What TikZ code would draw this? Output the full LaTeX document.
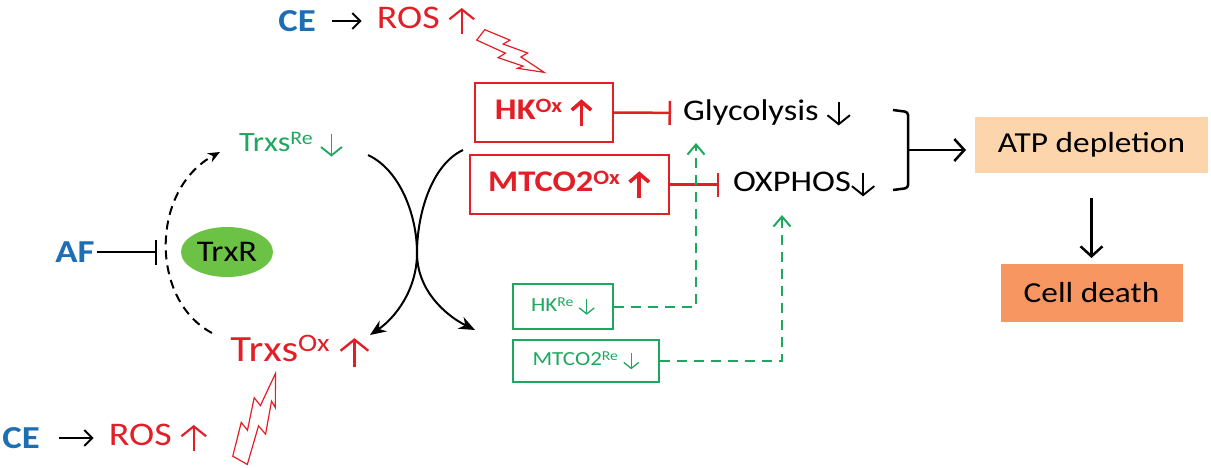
\documentclass[tikz,border=0pt]{standalone}
\usepackage{graphicx}
\usepackage{fontspec}
\setmainfont{Carlito}[FakeStretch=1.15]
\usetikzlibrary{arrows.meta,positioning,shapes.geometric}

\definecolor{ceblue}{RGB}{30,110,180}
\definecolor{rosred}{RGB}{226,30,38}
\definecolor{regreen}{RGB}{30,168,95}
\definecolor{trxgreen}{RGB}{108,194,68}
\definecolor{atpfill}{RGB}{252,213,172}
\definecolor{deathfill}{RGB}{247,150,96}

\newcommand{\suptxt}[1]{\raisebox{0.25em}{\scalebox{0.68}{#1}}}
\newcommand{\arrowup}{\tikz[baseline=0pt]\draw[line width=0.065em,-{Straight Barb[length=0.3em,width=0.75em]}] (0,-0.17em) -- (0,0.62em);}
\newcommand{\arrowdn}{\tikz[baseline=0pt]\draw[line width=0.065em,-{Straight Barb[length=0.3em,width=0.75em]}] (0,0.62em) -- (0,-0.17em);}
\newcommand{\boldup}{\tikz[baseline=0pt]\draw[line width=0.12em,-{Straight Barb[length=0.28em,width=0.65em]}] (0,-0.2em) -- (0,0.68em);}

\tikzset{
  agent/.style={text=ceblue, inner sep=1pt, font=\fontsize{32}{35}\selectfont\bfseries},
  ros/.style={text=rosred, inner sep=1pt, font=\fontsize{33}{36}\selectfont},
  txt/.style={inner sep=1pt, font=\fontsize{30}{33}\selectfont},
  redbox/.style={draw=rosred, line width=1.3pt, text=rosred, minimum height=59pt,
                 inner sep=2pt, font=\fontsize{30}{33}\selectfont\bfseries},
  greenbox/.style={draw=regreen, line width=1.6pt, text=regreen, inner sep=2pt,
                   font=\fontsize{20}{23}\selectfont},
  greentxt/.style={text=regreen, inner sep=1pt, font=\fontsize{28}{31}\selectfont},
  redtxt/.style={text=rosred, inner sep=1pt, font=\fontsize{37}{40}\selectfont},
  trxr/.style={ellipse, fill=trxgreen, minimum width=92pt, minimum height=50pt,
               inner sep=0pt, font=\fontsize{30}{32}\selectfont},
  atpbox/.style={fill=atpfill, minimum width=233pt, minimum height=56pt,
                 font=\fontsize{29}{32}\selectfont},
  deathbox/.style={fill=deathfill, minimum width=182pt, minimum height=58pt,
                   font=\fontsize{29}{32}\selectfont},
  inh/.style={draw=rosred, line width=2.5pt, -{Bar[width=24pt]}},
  curv/.style={line width=2pt, -{Stealth[length=16pt,width=13pt]}},
  bigarr/.style={line width=2.5pt, -{Straight Barb[length=10pt,width=22pt]}},
  gconn/.style={draw=regreen, line width=2pt, dash pattern=on 10pt off 7pt,
                -{Straight Barb[length=10pt,width=17pt]}},
  bolt/.pic={
    \draw[rosred, line width=1.2pt] (0,0.14) -- (0.42,0.04) -- (0.38,0.15) -- (0.72,0.03)
      -- (0.68,0.10) -- (1,-0.08) -- (0.62,-0.05) -- (0.66,-0.15) -- (0.32,-0.04)
      -- (0.36,-0.14) -- (0,-0.04) -- cycle;
  }
}

\begin{document}
\begin{tikzpicture}[x=1pt,y=-1pt,>={Straight Barb[length=8pt,width=16pt]},
                    line width=2pt]
  \useasboundingbox (0,0) rectangle (1211,467);

  % ROS at the top
  \node[agent] (ceT) at (297,21) {CE};
  \node[ros] (rosT) [right=58pt of ceT] {ROS \arrowup};
  \path (ceT) edge[->, shorten <=14pt, shorten >=14pt] (rosT);
  \pic[rotate=-38, scale=73] at (483,32) {bolt};

  % oxidized targets
  \node[redbox, minimum width=138pt] (hkox) at (544,112.5) {HK\suptxt{Ox} \boldup};
  \node[redbox, minimum width=199pt] (mtox) at (569.5,184.5) {MTCO2\suptxt{Ox} \boldup};
  \node[txt, anchor=west] (glyco) at (682,113) {Glycolysis \arrowdn};
  \node[txt, anchor=west] (oxphos) at (732,184.5) {OXPHOS\arrowdn};
  \path (hkox) edge[inh, shorten >=11pt] (glyco);
  \path (mtox) edge[inh, shorten >=13pt] (oxphos);

  % ATP branch
  \draw[line width=2.5pt, rounded corners=3pt] (893,110) -- (908,112) -- (908,188) -- (893,190);
  \coordinate (brk) at (908,150);
  \node[atpbox] (atp) at (1091.5,145) {ATP depletion};
  \node[deathbox] (death) [below=89pt of atp] {Cell death};
  \draw[bigarr, shorten >=8pt] (brk) -- (brk -| atp.west);
  \draw[bigarr, shorten <=24pt, shorten >=5pt] (atp) -- (death);

  % thioredoxin cycle
  \node[agent] (af) at (75,252) {AF};
  \node[trxr] (trxr) at (227,252) {TrxR};
  \path (af) edge[-{Bar[width=25pt]}, shorten >=23pt] (trxr);
  \node[greentxt] (trxsre) at (291,145) {Trxs\suptxt{Re} \arrowdn};
  \node[redtxt] (trxsox) at (300,352) {Trxs\suptxt{Ox} \arrowup};
  \coordinate (arcS) at (212,333);
  \coordinate (arcE) at (220,152);
  \draw[dash pattern=on 9pt off 6pt, -{Stealth[length=12pt,width=10pt]}]
    (arcS) .. controls (150,300) and (150,190) .. (arcE);

  % crossing arrows
  \coordinate (x1s) at (368,155);
  \coordinate (x1e) at (475,330);
  \coordinate (x2s) at (463,150);
  \coordinate (x2e) at (370,335);
  \coordinate (cross) at (417,253);
  \draw[curv] (x1s) .. controls (400,170) and (417,215) .. (cross)
                    .. controls (417,290) and (445,315) .. (x1e);
  \draw[curv] (x2s) .. controls (431,165) and (417,215) .. (cross)
                    .. controls (417,290) and (395,318) .. (x2e);

  % ROS at the bottom
  \node[agent] (ceB) at (21,438) {CE};
  \node[ros] (rosB) [right=66pt of ceB] {ROS \arrowup};
  \path (ceB) edge[->, shorten <=17pt, shorten >=14pt] (rosB);
  \pic[rotate=60.4, scale=93] at (236,458) {bolt};

  % reduced targets
  \node[greenbox, minimum width=100pt, minimum height=45pt] (hkre) at (563,306.5) {HK\suptxt{Re} \arrowdn};
  \node[greenbox, minimum width=146pt, minimum height=42pt] (mtre) at (586,361) {MTCO2\suptxt{Re} \arrowdn};
  \coordinate (gTip) at (696,143);
  \coordinate (oTip) at (782,215);
  \draw[gconn] (hkre.east) -| (gTip);
  \draw[gconn] (mtre.east) -| (oTip);

\end{tikzpicture}
\end{document}
